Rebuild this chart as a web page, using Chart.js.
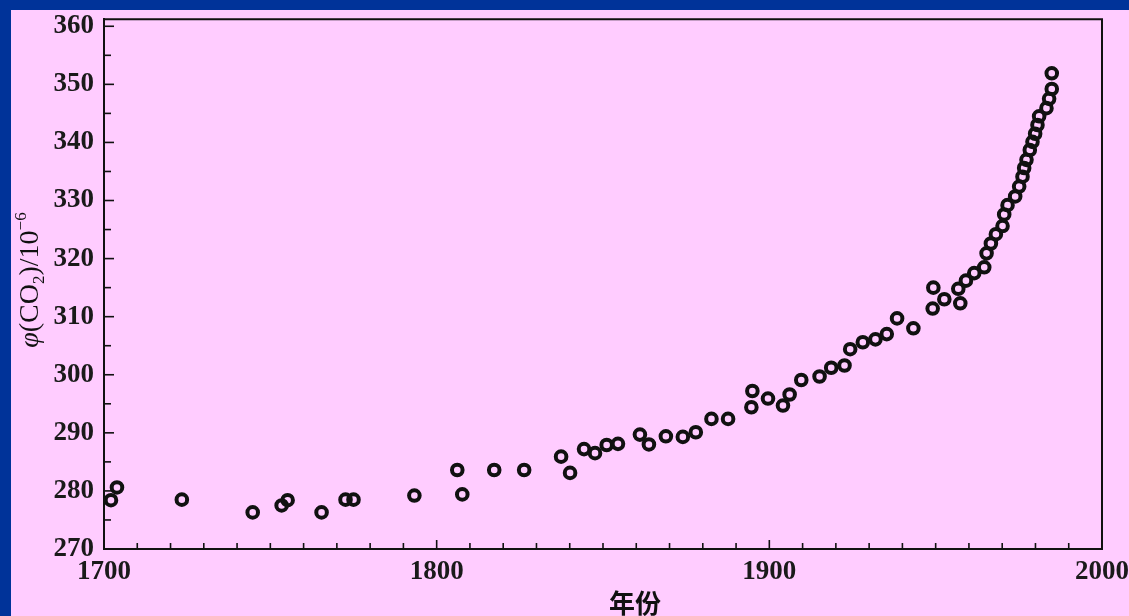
<!DOCTYPE html>
<html>
<head>
<meta charset="utf-8">
<script src="https://cdn.jsdelivr.net/npm/chart.js@4/dist/chart.umd.min.js"></script>
<style>
  html, body { margin: 0; padding: 0; background: #003399; }
  #wrap { position: absolute; left: 11px; top: 10px; width: 1118px; height: 606px; background: #ffccff; }
</style>
</head>
<body>
<div id="wrap"><canvas id="chart" width="1118" height="606"></canvas></div>
<script>
  // CO2 volume fraction (10^-6) by year
  var years = [1702.1, 1703.9, 1723.4, 1744.7, 1753.4, 1755.2, 1765.4, 1772.6, 1775.0, 1793.3,
               1806.2, 1807.7, 1817.3, 1826.3, 1837.4, 1840.1, 1844.3, 1847.6, 1851.1, 1854.5,
               1861.1, 1863.8, 1868.9, 1874.0, 1877.9, 1882.6, 1887.6, 1894.6, 1894.9, 1899.6,
               1904.1, 1906.1, 1909.6, 1915.1, 1918.6, 1922.6, 1924.3, 1928.1, 1931.9, 1935.3,
               1938.4, 1943.3, 1949.1, 1949.3, 1952.6, 1956.8, 1957.4, 1959.1, 1961.6, 1964.6,
               1965.3, 1966.6, 1968.1, 1970.1, 1970.6, 1971.6, 1973.9, 1975.1, 1976.1, 1976.6,
               1977.3, 1978.3, 1979.1, 1979.9, 1980.6, 1981.1, 1983.3, 1984.1, 1984.9, 1984.9];
  var co2 = [278.4, 280.6, 278.5, 276.3, 277.5, 278.4, 276.3, 278.5, 278.5, 279.2,
             283.6, 279.4, 283.6, 283.6, 285.9, 283.1, 287.2, 286.5, 287.9, 288.1,
             289.7, 288.0, 289.4, 289.3, 290.1, 292.4, 292.4, 294.4, 297.2, 295.9,
             294.7, 296.6, 299.1, 299.7, 301.2, 301.6, 304.4, 305.6, 306.1, 307.0,
             309.7, 308.0, 311.4, 315.0, 313.0, 314.8, 312.3, 316.2, 317.5, 318.5,
             320.9, 322.6, 324.2, 325.6, 327.6, 329.2, 330.7, 332.4, 334.1, 335.6,
             337.0, 338.7, 340.1, 341.5, 343.0, 344.5, 345.9, 347.5, 349.2, 351.9];

  var xTicks = [1700, 1800, 1900, 2000];
  var yTicks = [270, 280, 290, 300, 310, 320, 330, 340, 350, 360];
  var xTitle = '年份';

  var points = years.map(function (v, i) { return { x: v, y: co2[i] }; });

  var tickFont = { family: 'Liberation Serif', size: 27, weight: 'bold' };

  // frame, inward tick marks and the two axis titles
  var framePlugin = {
    id: 'frame',
    afterDraw: function (chart) {
      var ctx = chart.ctx, a = chart.chartArea;
      var sx = chart.scales.x, sy = chart.scales.y;
      ctx.save();
      ctx.strokeStyle = '#111';
      ctx.lineWidth = 2;
      ctx.beginPath();
      ctx.moveTo(a.left, a.top);
      ctx.lineTo(a.right, a.top);
      ctx.lineTo(a.right, a.bottom);
      ctx.stroke();

      ctx.lineWidth = 1.6;
      for (var v = 1710; v < 2000; v += 10) {
        var px = sx.getPixelForValue(v);
        var len = v % 100 === 0 ? 9 : 6;
        ctx.beginPath();
        ctx.moveTo(px, a.bottom);
        ctx.lineTo(px, a.bottom - len);
        ctx.stroke();
      }
      for (var w = 275; w <= 360; w += 5) {
        var py = sy.getPixelForValue(w);
        var l = w % 10 === 0 ? 10 : 7;
        ctx.beginPath();
        ctx.moveTo(a.left, py);
        ctx.lineTo(a.left + l, py);
        ctx.stroke();
      }

      // x title
      ctx.fillStyle = '#111';
      ctx.font = 'bold 26px "Noto Sans CJK SC"';
      ctx.textAlign = 'center';
      ctx.textBaseline = 'middle';
      ctx.fillText(xTitle, 624, 593);

      // y title: φ(CO2)/10^-6, rotated
      var parts = [
        { t: 'φ', f: 'italic 28px "Liberation Serif"', dy: 0 },
        { t: '(CO', f: '28px "Liberation Serif"', dy: 0 },
        { t: '2', f: '17px "Liberation Serif"', dy: 6 },
        { t: ')/10', f: '28px "Liberation Serif"', dy: 0 },
        { t: '\u22126', f: '17px "Liberation Serif"', dy: -12 }
      ];
      var total = 0;
      parts.forEach(function (p) { ctx.font = p.f; p.w = ctx.measureText(p.t).width; total += p.w; });
      ctx.translate(17, 270);
      ctx.rotate(-Math.PI / 2);
      ctx.textAlign = 'left';
      ctx.textBaseline = 'alphabetic';
      var cx = -total / 2;
      parts.forEach(function (p) {
        ctx.font = p.f;
        ctx.fillText(p.t, cx, 10 + p.dy);
        cx += p.w;
      });
      ctx.restore();
    }
  };

  new Chart(document.getElementById('chart').getContext('2d'), {
    type: 'scatter',
    data: {
      datasets: [{
        data: points,
        pointRadius: 5.3,
        pointHoverRadius: 5.3,
        pointBorderWidth: 4,
        borderColor: '#111',
        backgroundColor: 'rgba(0,0,0,0)',
        showLine: false
      }]
    },
    options: {
      responsive: false,
      animation: false,
      events: [],
      layout: { padding: { left: 0, top: 3, right: 27, bottom: 0 } },
      plugins: { legend: { display: false }, tooltip: { enabled: false } },
      scales: {
        x: {
          type: 'linear',
          min: 1700,
          max: 2000,
          afterBuildTicks: function (s) { s.ticks = xTicks.map(function (v) { return { value: v }; }); },
          afterFit: function (s) { s.height = 67; s.paddingLeft = 0; s.paddingRight = 0; },
          grid: { display: false, drawTicks: false },
          border: { display: true, color: '#111', width: 2 },
          ticks: {
            font: tickFont, color: '#1a1a1a', padding: 7, maxRotation: 0, autoSkip: false,
            callback: function (v) { return String(v); }
          }
        },
        y: {
          min: 270,
          max: 361.2,
          afterBuildTicks: function (s) { s.ticks = yTicks.map(function (v) { return { value: v }; }); },
          afterFit: function (s) { s.width = 93; s.paddingTop = 0; s.paddingBottom = 0; },
          grid: { display: false, drawTicks: false },
          border: { display: true, color: '#111', width: 2 },
          ticks: { font: tickFont, color: '#1a1a1a', padding: 10 }
        }
      }
    },
    plugins: [framePlugin]
  });
</script>
</body>
</html>
